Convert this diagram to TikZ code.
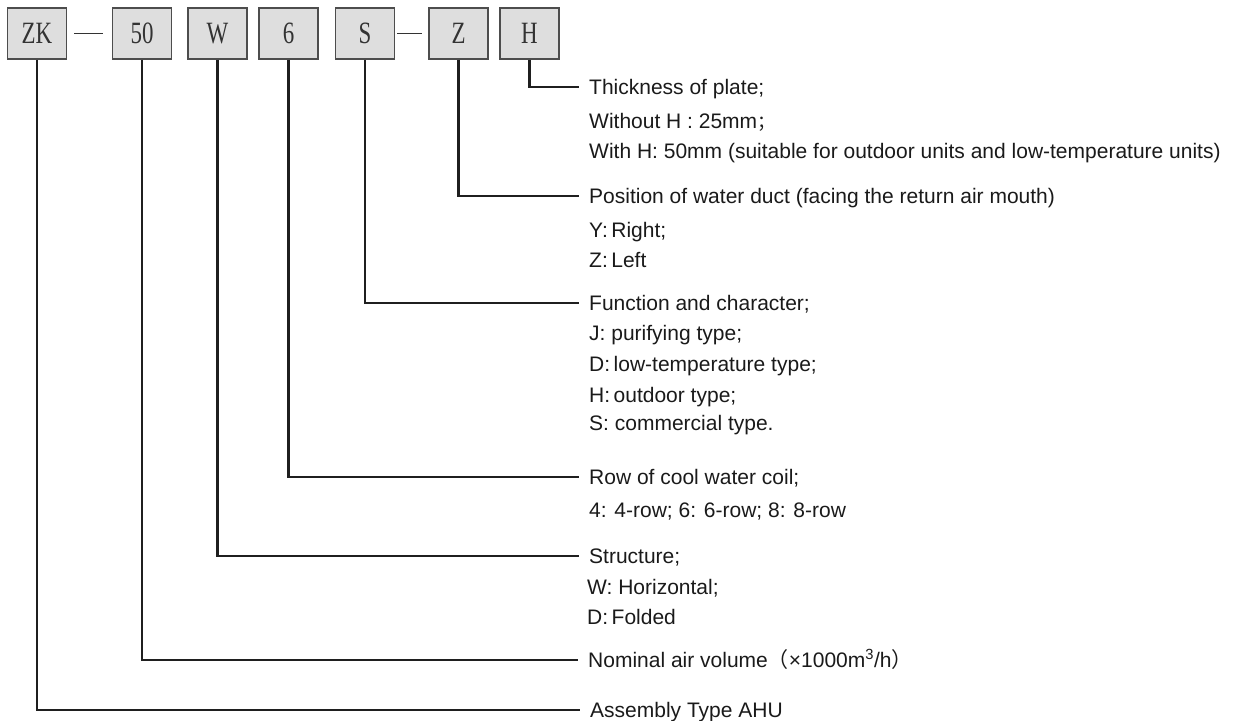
\documentclass[tikz,border=0pt]{standalone}
\usepackage{graphicx}
\usepackage{fontspec}
\setmainfont{Liberation Sans}
\newfontfamily\cjk{Noto Sans CJK SC}
\newfontfamily\boxfont{Liberation Serif}
\definecolor{boxfill}{HTML}{DEDEDE}
\definecolor{boxborder}{HTML}{4D4D4D}
\definecolor{boxtext}{HTML}{333333}
\definecolor{textcol}{HTML}{1A1A1A}
\newcommand\codetxt[1]{\raisebox{-1pt}{\scalebox{0.74}[1]{#1}}}
\begin{document}
\begin{tikzpicture}[x=1pt,y=-1pt,
  codebox/.style={draw=boxborder, fill=boxfill, line width=1.1pt, minimum width=59pt,
    minimum height=51pt, inner sep=0pt, font=\fontsize{31}{31}\boxfont, text=boxtext},
  lbl/.style={anchor=west, inner sep=0pt, text height=15pt, text depth=0pt,
    font=\fontsize{21}{25}\selectfont, text=textcol},
  lead/.style={line width=2.8pt, draw=black!88, line join=miter, shorten >=10pt},
  hyph/.style={line width=1.3pt, draw=black!80}]
\useasboundingbox (0,0) rectangle (1241,720);

% code boxes
\node[codebox] (zk) at (37,33.5) {\codetxt{ZK}};
\node[codebox] (c50) at (142,33.5) {\codetxt{50}};
\node[codebox] (cw) at (217.5,33.5) {\codetxt{W}};
\node[codebox] (c6) at (288.5,33.5) {\codetxt{6}};
\node[codebox] (cs) at (365,33.5) {\codetxt{S}};
\node[codebox] (cz) at (458.5,33.5) {\codetxt{Z}};
\node[codebox] (ch) at (529.5,33.5) {\codetxt{H}};

% hyphens
\draw[hyph] ([xshift=7pt]zk.east) -- ([xshift=-9pt]c50.west);
\draw[hyph] ([xshift=2pt]cs.east) -- ([xshift=-6pt]cz.west);

% H
\node[lbl] (th) at (589,87) {Thickness of plate;};
\node[lbl] (th2) at (589,121) {Without H : 25mm{\cjk\fontsize{18}{20}\selectfont ；}};
\node[lbl] (th3) at (589,151) {With H: 50mm (suitable for outdoor units and low-temperature units)};
% Z
\node[lbl] (tz) at (589,196) {Position of water duct (facing the return air mouth)};
\node[lbl] (tz2) at (589,230) {Y:\,Right;};
\node[lbl] (tz3) at (589,260) {Z:\,Left};
% S
\node[lbl] (ts) at (589,303) {Function and character;};
\node[lbl] (ts2) at (589,333) {J: purifying type;};
\node[lbl] (ts3) at (589,364) {D:\,low-temperature type;};
\node[lbl] (ts4) at (589,395) {H:\,outdoor type;};
\node[lbl] (ts5) at (589,423) {S: commercial type.};
% 6
\node[lbl] (t6) at (589,477) {Row of cool water coil;};
\node[lbl] (t62) at (589,510) {4: 4-row; 6: 6-row; 8: 8-row};
% W
\node[lbl] (tw) at (589,556) {Structure;};
\node[lbl] (tw2) at (587,587) {W: Horizontal;};
\node[lbl] (tw3) at (587,617) {D:\,Folded};
% 50
\node[lbl] (t50) at (588,660) {Nominal air volume{\cjk （}×1000m\textsuperscript{3}/h{\cjk ）}};
% ZK
\node[lbl] (tzk) at (590,710) {Assembly Type AHU};

% leaders
\draw[lead] (ch.south) |- (th.west);
\draw[lead] (cz.south) |- (tz.west);
\draw[lead] (cs.south) |- (ts.west);
\draw[lead] (c6.south) |- (t6.west);
\draw[lead] (cw.south) |- (tw.west);
\draw[lead] (c50.south) |- (t50.west);
\draw[lead] (zk.south) |- (tzk.west);
\end{tikzpicture}
\end{document}
